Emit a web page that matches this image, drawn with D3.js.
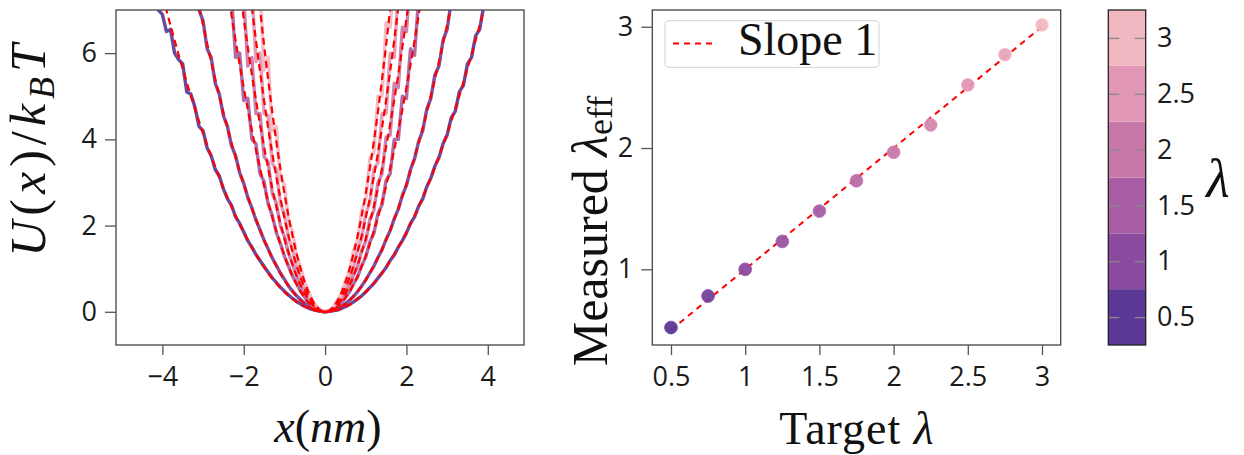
<!DOCTYPE html>
<html>
<head>
<meta charset="utf-8">
<script src="https://cdn.jsdelivr.net/npm/d3@7"></script>
<style>
  body { margin: 0; background: #fff; }
  svg { display: block; }
</style>
</head>
<body>
<svg id="fig" width="1244" height="455"></svg>
<script>
// ---------- Data: potential profiles U(x)/kBT for several target lambdas ----------
const traceLambda = [0.5, 0.75, 1.5, 2, 2.5, 3];

const xLam050 = [-4.2,-4.1,-4.0,-3.9,-3.8,-3.7,-3.6,-3.5,-3.4,-3.3,-3.2,-3.1,-3.0,-2.9,-2.8,-2.7,-2.6,-2.5,-2.4,-2.3,-2.2,-2.1,-2.0,-1.9,-1.8,-1.7,-1.6,-1.5,-1.4,-1.3,-1.2,-1.1,-1.0,-0.9,-0.8,-0.7,-0.6,-0.5,-0.4,-0.3,-0.2,-0.1,0,0.1,0.2,0.3,0.4,0.5,0.6,0.7,0.8,0.9,1.0,1.1,1.2,1.3,1.4,1.5,1.6,1.7,1.8,1.9,2.0,2.1,2.2,2.3,2.4,2.5,2.6,2.7,2.8,2.9,3.0,3.1,3.2,3.3,3.4,3.5,3.6,3.7,3.8,3.9,4.0];
const uLam050 = [7.4,7.0,6.9,6.5,6.55,6.0,5.85,5.75,5.1,5.05,4.75,4.3,4.2,3.8,3.62,3.3,3.15,2.85,2.62,2.47,2.2,2.05,1.85,1.65,1.5,1.33,1.19,1.05,0.92,0.79,0.68,0.57,0.48,0.39,0.31,0.24,0.18,0.13,0.08,0.05,0.03,0.01,0,0.01,0.03,0.04,0.08,0.12,0.17,0.23,0.3,0.37,0.46,0.56,0.66,0.78,0.9,1.03,1.19,1.32,1.5,1.65,1.83,2.05,2.2,2.45,2.62,2.9,3.1,3.38,3.58,3.9,4.1,4.5,4.65,5.1,5.25,5.75,5.9,6.4,6.55,7.1,7.3];

const xLam075 = [-3.2,-3.1,-3.0,-2.9,-2.8,-2.7,-2.6,-2.5,-2.4,-2.3,-2.2,-2.1,-2.0,-1.9,-1.8,-1.7,-1.6,-1.5,-1.4,-1.3,-1.2,-1.1,-1.0,-0.9,-0.8,-0.7,-0.6,-0.5,-0.4,-0.3,-0.2,-0.1,0,0.1,0.2,0.3,0.4,0.5,0.6,0.7,0.8,0.9,1.0,1.1,1.2,1.3,1.4,1.5,1.6,1.7,1.8,1.9,2.0,2.1,2.2,2.3,2.4,2.5,2.6,2.7,2.8,2.9,3.0,3.1,3.2];
const uLam075 = [7.45,7.0,6.75,6.1,5.9,5.3,5.05,4.55,4.3,3.85,3.62,3.22,2.98,2.65,2.41,2.13,1.9,1.66,1.46,1.25,1.08,0.9,0.75,0.6,0.48,0.37,0.28,0.2,0.13,0.07,0.04,0.01,0,0.01,0.03,0.07,0.12,0.19,0.27,0.36,0.47,0.6,0.74,0.9,1.06,1.26,1.44,1.68,1.88,2.16,2.38,2.7,2.93,3.3,3.55,3.95,4.2,4.7,4.95,5.5,5.7,6.3,6.55,7.2,7.5];

const xLam150 = [-2.4,-2.3,-2.2,-2.1,-2.0,-1.9,-1.8,-1.7,-1.6,-1.5,-1.4,-1.3,-1.2,-1.1,-1.0,-0.9,-0.8,-0.7,-0.6,-0.5,-0.4,-0.3,-0.2,-0.1,0,0.1,0.2,0.3,0.4,0.5,0.6,0.7,0.8,0.9,1.0,1.1,1.2,1.3,1.4,1.5,1.6,1.7,1.8,1.9,2.0,2.1,2.2,2.3,2.4];
const uLam150 = [7.0,7.3,5.9,6.0,4.9,4.95,4.0,3.9,3.2,3.02,2.5,2.24,1.84,1.59,1.29,1.06,0.82,0.65,0.47,0.34,0.2,0.12,0.06,0.02,0,0.02,0.05,0.13,0.2,0.34,0.46,0.65,0.81,1.07,1.27,1.62,1.82,2.28,2.48,3.05,3.2,4.0,4.0,5.0,4.95,6.1,5.95,7.3,7.1];

const xLam200 = [-2.1,-2.0,-1.9,-1.8,-1.7,-1.6,-1.5,-1.4,-1.3,-1.2,-1.1,-1.0,-0.9,-0.8,-0.7,-0.6,-0.5,-0.4,-0.3,-0.2,-0.1,0,0.1,0.2,0.3,0.4,0.5,0.6,0.7,0.8,0.9,1.0,1.1,1.2,1.3,1.4,1.5,1.6,1.7,1.8,1.9,2.0,2.1];
const uLam200 = [7.0,7.3,5.7,5.9,4.6,4.6,3.6,3.48,2.75,2.52,2.0,1.74,1.36,1.11,0.82,0.62,0.42,0.28,0.15,0.07,0.02,0,0.03,0.06,0.16,0.26,0.45,0.59,0.86,1.06,1.42,1.64,2.14,2.36,3.0,3.2,4.05,4.1,5.3,5.2,6.6,6.5,7.8];

const xLam250 = [-1.9,-1.8,-1.7,-1.6,-1.5,-1.4,-1.3,-1.2,-1.1,-1.0,-0.9,-0.8,-0.7,-0.6,-0.5,-0.4,-0.3,-0.2,-0.1,0,0.1,0.2,0.3,0.4,0.5,0.6,0.7,0.8,0.9,1.0,1.1,1.2,1.3,1.4,1.5,1.6,1.7,1.8,1.9];
const uLam250 = [7.3,7.5,5.8,6.0,4.6,4.55,3.45,3.3,2.52,2.26,1.71,1.44,1.04,0.81,0.54,0.36,0.2,0.09,0.03,0.01,0.02,0.1,0.19,0.37,0.53,0.8,1.04,1.45,1.7,2.28,2.52,3.32,3.45,4.6,4.6,6.0,5.9,7.5,7.4];

const xLam300 = [-1.7,-1.6,-1.5,-1.4,-1.3,-1.2,-1.1,-1.0,-0.9,-0.8,-0.7,-0.6,-0.5,-0.4,-0.3,-0.2,-0.1,0,0.1,0.2,0.3,0.4,0.5,0.6,0.7,0.8,0.9,1.0,1.1,1.2,1.3,1.4,1.5,1.6,1.7];
const uLam300 = [7.4,7.6,5.6,5.9,4.2,4.3,3.1,2.95,2.1,1.86,1.3,1.03,0.67,0.46,0.24,0.12,0.04,0.01,0.03,0.1,0.27,0.42,0.72,0.95,1.42,1.68,2.35,2.6,3.55,3.7,5.0,5.0,6.7,6.6,8.0];

// Harmonic fit stiffness for each trace: U = k x^2
const fitStiffness = [0.46, 0.74, 1.30, 1.70, 2.18, 2.75];

// ---------- Data: measured vs target lambda ----------
const targetLambda   = [0.5, 0.75, 1, 1.25, 1.5, 1.75, 2, 2.25, 2.5, 2.75, 3];
const measuredLambda = [0.52, 0.78, 1.0, 1.23, 1.48, 1.73, 1.965, 2.19, 2.52, 2.77, 3.015];
const slopeLineX = [0.5, 3];

// ---------- Ticks and colour bar ----------
const leftXTicks = [-4, -2, 0, 2, 4];
const leftYTicks = [0, 2, 4, 6];
const rightXTicks = [0.5, 1, 1.5, 2, 2.5, 3];
const rightYTicks = [1, 2, 3];
const cbarTicks = [0.5, 1, 1.5, 2, 2.5, 3];
const cbarEdges = [0.25, 0.75, 1.25, 1.75, 2.25, 2.75, 3.25];
const cbarBandColors = ["#5c3896", "#8a4a9e", "#a75ea5", "#c878a8", "#e096b4", "#f2b8c2"];

// ---------- Setup ----------
const svg = d3.select("#fig");
const TICK_FONT = "'Open Sans', 'Noto Sans', sans-serif";
const SERIF = "'Liberation Serif', 'DejaVu Serif', serif";
const FRAME = "#444";
const TICKC = "#555";

const lamColor = d3.scaleLinear().domain(cbarTicks).range(cbarBandColors).interpolate(d3.interpolateRgb);

function styleAxis(g, color) {
  g.select(".domain").remove();
  g.selectAll(".tick line").attr("stroke", color || TICKC).attr("stroke-width", 1.3);
  g.selectAll(".tick text")
    .attr("font-family", TICK_FONT).attr("font-size", 27).attr("fill", "#1a1a1a");
}
const fmt = d3.format("~g");

// ---------- Left panel: potentials ----------
const L = { x0: 116, x1: 524, y0: 10, y1: 345 };
const xL = d3.scaleLinear().domain([-5.14, 4.89]).range([L.x0, L.x1]);
const yL = d3.scaleLinear().domain([-0.77, 7]).range([L.y1, L.y0]);

svg.append("defs").append("clipPath").attr("id", "clipL")
  .append("rect").attr("x", L.x0).attr("y", L.y0).attr("width", L.x1 - L.x0).attr("height", L.y1 - L.y0);

const traces = [
  [xLam050, uLam050], [xLam075, uLam075], [xLam150, uLam150],
  [xLam200, uLam200], [xLam250, uLam250], [xLam300, uLam300]
];

const lineL = d3.line().x(d => xL(d[0])).y(d => yL(d[1]));
const gCurves = svg.append("g").attr("clip-path", "url(#clipL)");

traces.forEach(([xs, us], i) => {
  gCurves.append("path")
    .attr("d", lineL(xs.map((x, j) => [x, us[j]])))
    .attr("fill", "none")
    .attr("stroke", lamColor(traceLambda[i]))
    .attr("stroke-width", 3.4)
    .attr("stroke-linejoin", "round")
    .attr("stroke-opacity", 0.92);
});

const fitLine = d3.line().x(d => xL(d[0])).y(d => yL(d[1])).curve(d3.curveMonotoneX);
traces.forEach(([xs], i) => {
  const k = fitStiffness[i];
  gCurves.append("path")
    .attr("d", fitLine(xs.map(x => [x, k * x * x])))
    .attr("fill", "none")
    .attr("stroke", "#ff0000")
    .attr("stroke-width", 2.2)
    .attr("stroke-dasharray", "7,4.5");
});

svg.append("rect")
  .attr("x", L.x0).attr("y", L.y0).attr("width", L.x1 - L.x0).attr("height", L.y1 - L.y0)
  .attr("fill", "none").attr("stroke", FRAME).attr("stroke-width", 1.3);

svg.append("g").attr("transform", `translate(0,${L.y1})`)
  .call(d3.axisBottom(xL).tickValues(leftXTicks).tickSize(10).tickPadding(12.2).tickFormat(fmt))
  .call(g => styleAxis(g));
svg.append("g").attr("transform", `translate(${L.x0},0)`)
  .call(d3.axisLeft(yL).tickValues(leftYTicks).tickSize(11).tickPadding(8).tickFormat(fmt))
  .call(g => styleAxis(g));

// axis labels (left)
const xlab = svg.append("text").attr("x", 328).attr("y", 442)
  .attr("text-anchor", "middle").attr("font-family", SERIF).attr("font-size", 46).attr("fill", "#111");
xlab.append("tspan").attr("font-style", "italic").text("x");
xlab.append("tspan").text("(");
xlab.append("tspan").attr("font-style", "italic").text("nm");
xlab.append("tspan").text(")");

const ylab = svg.append("text").attr("transform", "translate(45,148) rotate(-90)")
  .attr("text-anchor", "middle").attr("font-family", SERIF).attr("font-size", 50)
  .attr("letter-spacing", 5).attr("fill", "#111");
ylab.append("tspan").attr("font-style", "italic").text("U");
ylab.append("tspan").text("(");
ylab.append("tspan").attr("font-style", "italic").text("x");
ylab.append("tspan").text(")/");
ylab.append("tspan").attr("font-style", "italic").text("k");
ylab.append("tspan").attr("font-style", "italic").attr("font-size", 36).attr("dy", 9).text("B");
ylab.append("tspan").attr("font-style", "italic").attr("dy", -9).text("T");

// ---------- Right panel: measured vs target ----------
const R = { x0: 652.3, x1: 1060.7, y0: 10, y1: 345 };
const xR = d3.scaleLinear().domain([0.374, 3.126]).range([R.x0, R.x1]);
const yR = d3.scaleLinear().domain([0.376, 3.138]).range([R.y1, R.y0]);

svg.append("path")
  .attr("d", d3.line().x(d => xR(d)).y(d => yR(d))(slopeLineX))
  .attr("fill", "none").attr("stroke", "#ff0000").attr("stroke-width", 2)
  .attr("stroke-dasharray", "6,5");

svg.append("g").selectAll("circle")
  .data(targetLambda.map((t, i) => ({ t, m: measuredLambda[i] })))
  .join("circle")
  .attr("cx", d => xR(d.t)).attr("cy", d => yR(d.m)).attr("r", 6.4)
  .attr("fill", d => lamColor(d.t)).attr("fill-opacity", 0.95)
  .attr("stroke", d => d3.color(lamColor(d.t)).brighter(0.3)).attr("stroke-width", 0.8);

svg.append("rect")
  .attr("x", R.x0).attr("y", R.y0).attr("width", R.x1 - R.x0).attr("height", R.y1 - R.y0)
  .attr("fill", "none").attr("stroke", FRAME).attr("stroke-width", 1.3);

svg.append("g").attr("transform", `translate(0,${R.y1})`)
  .call(d3.axisBottom(xR).tickValues(rightXTicks).tickSize(10).tickPadding(12.2).tickFormat(fmt))
  .call(g => styleAxis(g));
svg.append("g").attr("transform", `translate(${R.x0},0)`)
  .call(d3.axisLeft(yR).tickValues(rightYTicks).tickSize(11).tickPadding(8).tickFormat(fmt))
  .call(g => styleAxis(g));

// legend
const lg = svg.append("g");
lg.append("rect").attr("x", 665).attr("y", 20.7).attr("width", 214).attr("height", 46.6).attr("rx", 3)
  .attr("fill", "#fff").attr("stroke", "#d4d4d4").attr("stroke-width", 1);
lg.append("line").attr("x1", 673).attr("x2", 714).attr("y1", 43.5).attr("y2", 43.5)
  .attr("stroke", "#ff0000").attr("stroke-width", 2).attr("stroke-dasharray", "6,5");
lg.append("text").attr("x", 738).attr("y", 55).attr("font-family", SERIF).attr("font-size", 46)
  .attr("fill", "#111").text("Slope 1");

// axis labels (right)
const txlab = svg.append("text").attr("x", 857).attr("y", 444)
  .attr("text-anchor", "middle").attr("font-family", SERIF).attr("font-size", 46)
  .attr("letter-spacing", 1).attr("fill", "#111");
txlab.append("tspan").text("Target ");
txlab.append("tspan").attr("font-style", "italic").text("λ");

const tylab = svg.append("text").attr("transform", "translate(607,231) rotate(-90)")
  .attr("text-anchor", "middle").attr("font-family", SERIF).attr("font-size", 50).attr("fill", "#111");
tylab.append("tspan").text("Measured ");
tylab.append("tspan").attr("font-style", "italic").text("λ");
tylab.append("tspan").attr("font-size", 36).attr("dy", 5).text("eff");

// ---------- Colour bar ----------
const C = { x0: 1108.3, x1: 1145.7, y0: 10, y1: 345 };
const yC = d3.scaleLinear().domain([0.25, 3.25]).range([C.y1, C.y0]);

svg.append("g").selectAll("rect")
  .data(cbarBandColors)
  .join("rect")
  .attr("x", C.x0).attr("width", C.x1 - C.x0)
  .attr("y", (d, i) => yC(cbarEdges[i + 1]))
  .attr("height", (d, i) => yC(cbarEdges[i]) - yC(cbarEdges[i + 1]))
  .attr("fill", d => d);

svg.append("g").attr("transform", `translate(${C.x1},0)`)
  .call(d3.axisRight(yC).tickValues(cbarTicks).tickSize(-11).tickPadding(11.3).tickFormat(fmt))
  .call(g => styleAxis(g, "#8a8a8a"));
svg.append("g").attr("transform", `translate(${C.x0},0)`)
  .call(d3.axisLeft(yC).tickValues(cbarTicks).tickSize(-11).tickFormat(""))
  .call(g => styleAxis(g, "#8a8a8a"));

svg.append("rect")
  .attr("x", C.x0).attr("y", C.y0).attr("width", C.x1 - C.x0).attr("height", C.y1 - C.y0)
  .attr("fill", "none").attr("stroke", "#222").attr("stroke-width", 1.3);

svg.append("text").attr("x", 1218).attr("y", 197).attr("text-anchor", "middle")
  .attr("font-family", SERIF).attr("font-style", "italic").attr("font-size", 54)
  .attr("fill", "#111").text("λ");
</script>
</body>
</html>
